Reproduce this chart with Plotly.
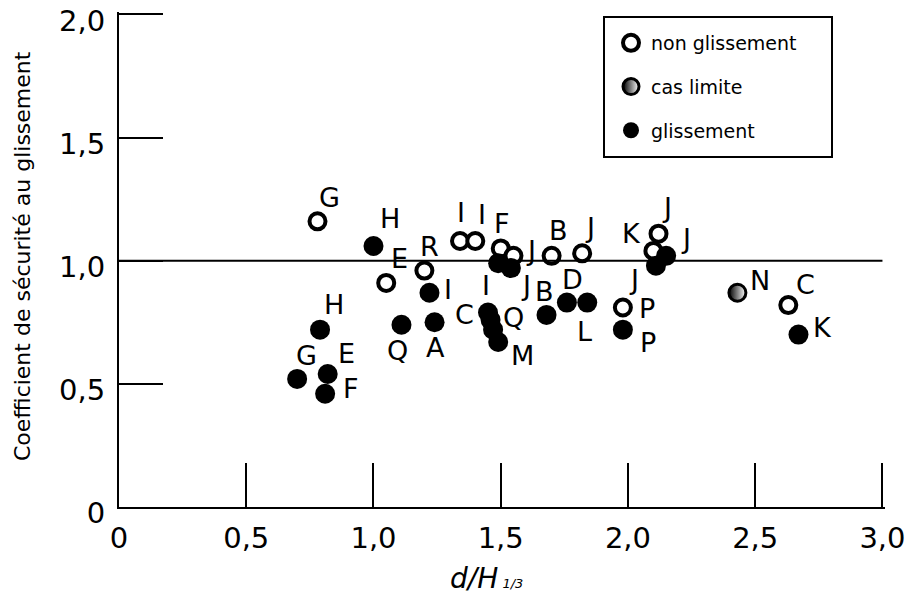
import plotly.graph_objects as go

# ---- data ----
x_tickvals = [0, 0.5, 1.0, 1.5, 2.0, 2.5, 3.0]
x_ticktext = ["0", "0,5", "1,0", "1,5", "2,0", "2,5", "3,0"]
y_tickvals = [0, 0.5, 1.0, 1.5, 2.0]
y_ticktext = ["0", "0,5", "1,0", "1,5", "2,0"]

# non glissement (open circles)
open_x = [0.78, 1.05, 1.20, 1.34, 1.40, 1.50, 1.55, 1.70, 1.82, 2.10, 2.12, 1.98, 2.63]
open_y = [1.16, 0.91, 0.96, 1.08, 1.08, 1.05, 1.02, 1.02, 1.03, 1.04, 1.11, 0.81, 0.82]
open_lbl = ["G", "E", "R", "I", "I", "F", "J", "B", "J", "K", "J", "P", "C"]

# cas limite (half-filled)
half_x = [2.43]
half_y = [0.87]
half_lbl = ["N"]

# glissement (filled)
fill_x = [1.00, 1.22, 1.11, 1.24, 1.49, 1.54, 1.45, 1.46, 1.47, 1.49, 1.68, 1.76, 1.84,
          2.15, 2.11, 1.98, 2.67, 0.79, 0.70, 0.82, 0.81]
fill_y = [1.06, 0.87, 0.74, 0.75, 0.99, 0.97, 0.79, 0.76, 0.72, 0.67, 0.78, 0.83, 0.83,
          1.02, 0.98, 0.72, 0.70, 0.72, 0.52, 0.54, 0.46]
fill_lbl = ["H", "I", "Q", "A", "", "J", "I", "C", "Q", "M", "B", "D", "L",
            "J", "J", "P", "K", "H", "G", "E", "F"]

# label offsets in pixels (right, down)
open_dx = [12, 13, 5, 1, 7, 1, 18, 7, 8, -22, 8, 24, 17]
open_dy = [-24, -24, -24, -29, -27, -25, -5, -25, -26, -17, -26, 1, -21]
half_dx = [23]
half_dy = [-12]
fill_dx = [17, 19, -4, 1, 0, 15, -2, -26, 20, 24, -2, 6, -3, 20, -22, 25, 24, 14, 9, 19, 26]
fill_dy = [-27, -3, 26, 25, 0, 17, -27, -5, -12, 13, -23, -23, 29, -17, 14, 13, -7, -25, -23, -21, -5]

FONT = "DejaVu Sans"
PW = 908 - 119 - 23   # plot width in px

fig = go.Figure()

fig.add_trace(go.Scatter(
    x=open_x, y=open_y, mode="markers", name="non glissement",
    legendgroup="a",
    marker=dict(symbol="circle", size=16, color="white",
                line=dict(color="black", width=4)),
))
fig.add_trace(go.Scatter(
    x=half_x, y=half_y, mode="markers", name="cas limite",
    legendgroup="b",
    marker=dict(symbol="circle", size=17, color="black",
                gradient=dict(type="horizontal", color="white"),
                line=dict(color="black", width=3)),
))
fig.add_trace(go.Scatter(
    x=fill_x, y=fill_y, mode="markers", name="glissement",
    legendgroup="c",
    marker=dict(symbol="circle", size=20, color="black",
                line=dict(color="black", width=0)),
))

annotations = []
for xs, ys, ls, dxs, dys in [(open_x, open_y, open_lbl, open_dx, open_dy),
                             (half_x, half_y, half_lbl, half_dx, half_dy),
                             (fill_x, fill_y, fill_lbl, fill_dx, fill_dy)]:
    for xv, yv, lv, dx, dy in zip(xs, ys, ls, dxs, dys):
        if not lv:
            continue
        annotations.append(dict(x=xv, y=yv, xref="x", yref="y", text=lv,
                                showarrow=False, xshift=dx, yshift=-dy,
                                font=dict(family=FONT, size=27, color="black")))

# axis titles
annotations.append(dict(
    xref="paper", yref="paper", x=(486 - 119) / PW, y=(507 - 578) / 495,
    xanchor="center", yanchor="middle", showarrow=False,
    text="<i>d/H</i><i><span style='font-size:13px'> 1/3</span></i>",
    font=dict(family=FONT, size=28, color="black")))
annotations.append(dict(
    xref="paper", yref="paper", x=(23 - 119) / PW, y=(507 - 256) / 495,
    xanchor="center", yanchor="middle", showarrow=False, textangle=-90,
    text="Coefficient de sécurité au glissement",
    font=dict(family=FONT, size=22, color="black")))

shapes = [
    dict(type="line", xref="x", yref="y", x0=0, x1=3.0, y0=1.0, y1=1.0,
         line=dict(color="black", width=2)),
    dict(type="rect", xref="paper", yref="paper",
         x0=(604 - 119) / PW, x1=(832 - 119) / PW,
         y0=(507 - 157) / 495, y1=(507 - 17) / 495,
         line=dict(color="black", width=2), fillcolor="rgba(0,0,0,0)"),
]

fig.update_layout(
    width=908, height=607,
    margin=dict(l=119, r=23, t=12, b=100, autoexpand=False),
    paper_bgcolor="white", plot_bgcolor="white",
    font=dict(family=FONT, color="black"),
    showlegend=True,
    legend=dict(x=(611 - 119) / PW, y=(507 - 24) / 495, xanchor="left", yanchor="top",
                bgcolor="rgba(0,0,0,0)", borderwidth=0,
                font=dict(family=FONT, size=19, color="black"),
                traceorder="grouped", tracegroupgap=16, itemsizing="trace"),
    annotations=annotations,
    shapes=shapes,
    xaxis=dict(range=[0, 3.01], tickvals=x_tickvals, ticktext=x_ticktext,
               showgrid=False, zeroline=False, showline=True, linecolor="black",
               linewidth=2, ticks="inside", ticklen=44, tickwidth=2, tickcolor="black",
               tickfont=dict(family=FONT, size=29, color="black"), automargin=False,
               ticklabelstandoff=4, ticklabeloverflow="allow"),
    yaxis=dict(range=[0, 2.01], tickvals=y_tickvals, ticktext=y_ticktext,
               showgrid=False, zeroline=False, showline=True, linecolor="black",
               linewidth=2, ticks="inside", ticklen=44, tickwidth=2, tickcolor="black",
               tickfont=dict(family=FONT, size=29, color="black"), automargin=False,
               ticklabelstandoff=6, ticklabeloverflow="allow", ticklabelshift=6),
)

fig.write_html("out.html")
